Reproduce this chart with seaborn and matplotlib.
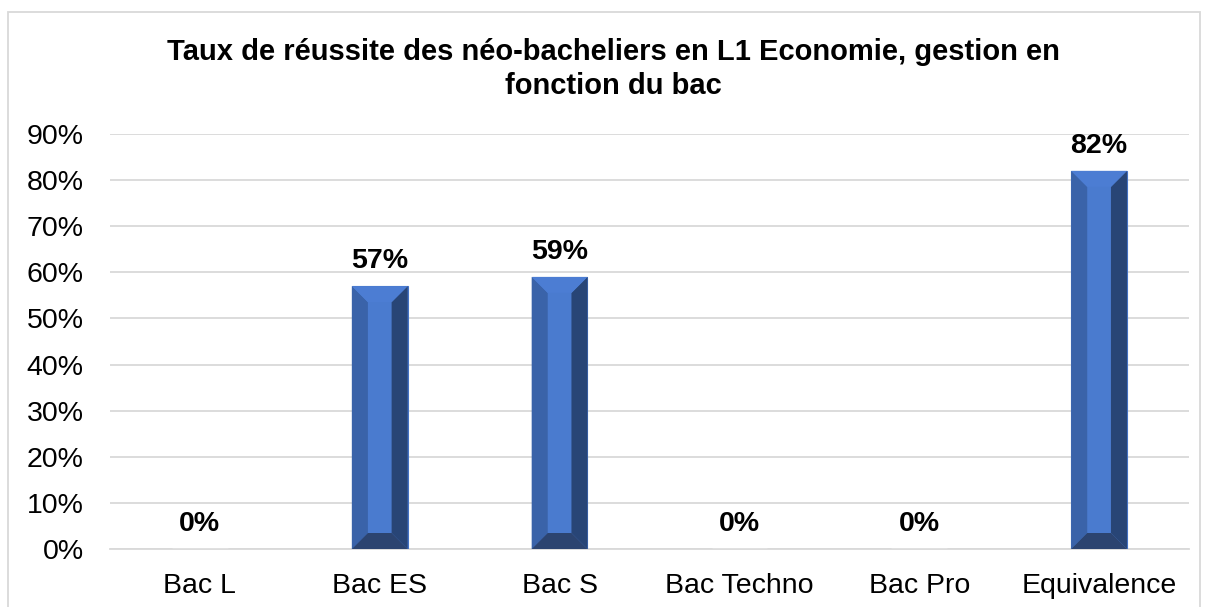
import matplotlib
matplotlib.use("Agg")
import matplotlib.pyplot as plt
from matplotlib.patches import Polygon, Rectangle
from matplotlib.ticker import PercentFormatter
import seaborn as sns
import pandas as pd

# donnees
categories = ["Bac L", "Bac ES", "Bac S", "Bac Techno", "Bac Pro", "Equivalence"]
taux = [0.0, 0.57, 0.59, 0.0, 0.0, 0.82]
labels = ["0%", "57%", "59%", "0%", "0%", "82%"]
titre = ["Taux de réussite des néo-bacheliers en L1 Economie, gestion en",
         "fonction du bac"]

df = pd.DataFrame({"bac": categories, "taux": taux})

sns.set_style("white")
plt.rcParams["font.family"] = ["Liberation Sans", "DejaVu Sans"]
plt.rcParams["text.color"] = "black"

W, H = 1208, 607
fig = plt.figure(figsize=(W / 100, H / 100), dpi=100)
ax = fig.add_axes([110 / W, 1 - 549 / H, 1079 / W, 415 / H])

sns.barplot(data=df, x="bac", y="taux", color="#4A7BCF", width=0.31,
            saturation=1, ax=ax, zorder=3)
ax.set_ylim(0, 0.9)
ax.set_xlim(-0.5, len(categories) - 0.5)
ax.set_yticks([i / 10 for i in range(10)])
ax.yaxis.set_major_formatter(PercentFormatter(1.0, decimals=0))
ax.grid(axis="y", color="#D9D9D9", lw=1.3, zorder=0)
ax.set_axisbelow(True)
for s in ["top", "right", "left"]:
    ax.spines[s].set_visible(False)
ax.spines["bottom"].set_color("#D9D9D9")
ax.spines["bottom"].set_linewidth(1.3)
ax.set_xlabel("")
ax.set_ylabel("")
ax.tick_params(axis="both", length=0, labelsize=20.5, colors="black")
ax.tick_params(axis="y", pad=19)
ax.tick_params(axis="x", pad=17)

# effet biseau (facon Excel)
fig.canvas.draw()
bw_px = 16
sx = (ax.get_xlim()[1] - ax.get_xlim()[0]) / ax.bbox.width * bw_px
sy = (ax.get_ylim()[1] - ax.get_ylim()[0]) / ax.bbox.height * bw_px
for p in ax.patches:
    h = p.get_height()
    if h <= 0:
        continue
    x0 = p.get_x()
    x1 = x0 + p.get_width()
    y0, y1 = 0, h
    p.set_edgecolor("#4472C4")
    p.set_linewidth(0.8)
    faces = [
        ([(x0, y0), (x0 + sx, y0 + sy), (x0 + sx, y1 - sy), (x0, y1)], "#3A63A9"),
        ([(x1, y0), (x1 - sx, y0 + sy), (x1 - sx, y1 - sy), (x1, y1)], "#284576"),
        ([(x0, y1), (x0 + sx, y1 - sy), (x1 - sx, y1 - sy), (x1, y1)], "#4C7DD3"),
        ([(x0, y0), (x0 + sx, y0 + sy), (x1 - sx, y0 + sy), (x1, y0)], "#2C4470"),
    ]
    for pts, c in faces:
        ax.add_patch(Polygon(pts, closed=True, facecolor=c, edgecolor="none", zorder=4))

for i, (v, lab) in enumerate(zip(taux, labels)):
    ax.annotate(lab, (i, v), xytext=(0, 13), textcoords="offset points",
                ha="center", va="baseline", fontsize=20.5, fontweight="bold",
                color="black")

# titre sur deux lignes
for ligne, yb in zip(titre, [60, 94]):
    fig.text(613 / W, 1 - yb / H, ligne, ha="center", va="baseline",
             fontsize=21, fontweight="bold", color="black")

fig.patches.append(Rectangle((8 / W, -0.02), 1192 / W, 1.02 - 12 / H,
                             transform=fig.transFigure, fill=False,
                             edgecolor="#D9D9D9", lw=1.3))

fig.savefig("out.png", dpi=100)
